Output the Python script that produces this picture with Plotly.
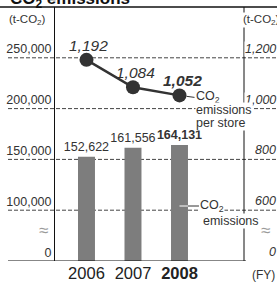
import plotly.graph_objects as go

# ---- data ----
years = ["2006", "2007", "2008"]
emissions = [152622, 161556, 164131]          # t-CO2 (bars, left axis)
per_store = [1192, 1084, 1052]                # t-CO2 per store (line, right axis)
year_labels = ["2006", "2007", "<b>2008</b>"]
left_tick_vals = [50000, 100000, 150000, 200000, 250000]   # 50,000 = broken-axis "0"
left_tick_text = ["0", "100,000", "150,000", "200,000", "250,000"]
right_tick_vals = [400, 600, 800, 1000, 1200]              # 400 = broken-axis "0"
right_tick_text = ["0", "600", "800", "1,000", "1,200"]

FONT = "Liberation Sans, Arial, Helvetica, sans-serif"
W, H = 277, 282
ML, MR, MT, MB = 55, 0, 7, 21
PW = W - ML - MR
PH = H - MT - MB
DOM = 189 / PW
BAR_W = 0.365
INK = "#333333"

def px_x(p):  # pixel -> paper x
    return (p - ML) / PW

def px_y(p):  # pixel -> paper y
    return 1 - (p - MT) / PH

bar_text = [f"{v:,}" for v in emissions]
bar_text[-1] = f"<b>{bar_text[-1]}</b>"

fig = go.Figure()
fig.add_trace(go.Bar(
    x=years, y=emissions, width=BAR_W, marker=dict(color="#7d7d7d", line=dict(width=0)),
    text=bar_text, textposition="outside", cliponaxis=False, constraintext="none",
    textfont=dict(size=12.5, color=INK, family=FONT), hoverinfo="skip",
))
fig.add_trace(go.Scatter(
    x=years, y=per_store, yaxis="y2", mode="lines+markers",
    line=dict(color=INK, width=2.5), marker=dict(size=14, color=INK),
    hoverinfo="skip",
))

shapes = []
for v in left_tick_vals[1:]:
    shapes.append(dict(type="line", xref="paper", yref="y", x0=px_x(8), x1=1.0,
                       y0=v, y1=v, line=dict(color="#444444", width=1, dash="4px,2px"),
                       layer="below"))
shapes.append(dict(type="line", xref="paper", yref="y", x0=px_x(8), x1=px_x(246),
                   y0=left_tick_vals[0], y1=left_tick_vals[0],
                   line=dict(color="#111111", width=1.2)))
shapes.append(dict(type="line", xref="paper", yref="paper", x0=px_x(0), x1=1.0,
                   y0=1, y1=1, line=dict(color="#111111", width=1.5)))
shapes.append(dict(type="line", xref="paper", yref="paper", x0=DOM, x1=DOM,
                   y0=0, y1=1, line=dict(color="#111111", width=1)))
shapes.append(dict(type="line", xref="x", yref="paper", x0=2.0, x1=2 + BAR_W / 2,
                   y0=px_y(206), y1=px_y(206), line=dict(color="white", width=1)))

ann = []
ann.append(dict(text="<b>CO<sub>2</sub> emissions</b>", xref="paper", yref="paper",
                x=px_x(8), y=1, xanchor="left", yanchor="bottom", yshift=-6,
                showarrow=False, font=dict(size=17, color="#111111", family=FONT)))
ann.append(dict(text="(t-CO<sub>2</sub>)", xref="paper", yref="paper", x=px_x(7),
                y=px_y(20), xanchor="left", yanchor="middle", showarrow=False,
                font=dict(size=11.5, color=INK, family=FONT)))
ann.append(dict(text="(t-CO<sub>2</sub>)", xref="paper", yref="paper", x=px_x(242),
                y=px_y(20), xanchor="left", yanchor="middle", showarrow=False,
                bgcolor="white", borderpad=0,
                font=dict(size=11.5, color=INK, family=FONT)))
for xp in (43, 265):
    ann.append(dict(text="≈", xref="paper", yref="paper", x=px_x(xp), y=px_y(230),
                    xanchor="center", yanchor="middle", showarrow=False, bgcolor="white",
                    borderpad=0, font=dict(size=17, color="#9a9a9a", family=FONT)))
ann.append(dict(text="(FY)", xref="paper", yref="paper", x=1.0, y=px_y(275),
                xanchor="right", yanchor="middle", showarrow=False,
                font=dict(size=12, color=INK, family=FONT)))
# right axis tick labels (right-aligned at the edge)
for v, t in zip(right_tick_vals, right_tick_text):
    ann.append(dict(text=f"<i>{t}</i>", xref="paper", yref="y2", x=1.0, y=v,
                    xanchor="right", yanchor="bottom", yshift=1, showarrow=False,
                    bgcolor="white", borderpad=0,
                    font=dict(size=12.5, color=INK, family=FONT)))
# line value labels
for i, v in enumerate(per_store):
    t = f"{v:,}"
    t = f"<b><i>{t}</i></b>" if i == len(per_store) - 1 else f"<i>{t}</i>"
    ann.append(dict(text=t, xref="x", yref="y2", x=i, y=v,
                    xanchor="center", yanchor="bottom", yshift=4, xshift=2.5,
                    showarrow=False, font=dict(size=15.5, color=INK, family=FONT)))
# legend for line
li = len(per_store) - 1
ann.append(dict(text="CO<sub>2</sub>", xref="x", yref="y2", x=li, y=per_store[li],
                ax=15, ay=2, xanchor="left", yanchor="middle", showarrow=True,
                arrowhead=0, arrowwidth=1, arrowcolor=INK, standoff=7, borderpad=0,
                bgcolor="white", font=dict(size=12.5, color=INK, family=FONT)))
ann.append(dict(text="emissions", xref="x", yref="y2", x=li, y=per_store[li],
                xshift=15, yshift=-15, xanchor="left", yanchor="middle",
                showarrow=False, bgcolor="white", borderpad=0,
                font=dict(size=12.5, color=INK, family=FONT)))
ann.append(dict(text="per store", xref="x", yref="y2", x=li, y=per_store[li],
                xshift=15, yshift=-27.5, xanchor="left", yanchor="middle",
                showarrow=False, bgcolor="white", borderpad=0,
                font=dict(size=12.5, color=INK, family=FONT)))
# legend for bars
ann.append(dict(text="CO<sub>2</sub>", xref="x", yref="paper", x=2 + BAR_W / 2, y=px_y(206),
                ax=11, ay=0, xanchor="left", yanchor="middle", showarrow=True,
                arrowhead=0, arrowwidth=1, arrowcolor=INK, standoff=0, borderpad=0,
                bgcolor="white", font=dict(size=12.5, color=INK, family=FONT)))
ann.append(dict(text="emissions", xref="x", yref="paper", x=2 + BAR_W / 2, y=px_y(221),
                xshift=14, xanchor="left", yanchor="middle", showarrow=False,
                bgcolor="white", borderpad=0,
                font=dict(size=12.5, color=INK, family=FONT)))

fig.update_layout(
    width=W, height=H, margin=dict(l=ML, r=MR, t=MT, b=MB, pad=0),
    paper_bgcolor="white", plot_bgcolor="white", showlegend=False,
    font=dict(family=FONT, color=INK),
    xaxis=dict(type="category", domain=[0, DOM], range=[-0.677, 3.387],
               tickvals=years, ticktext=year_labels, showgrid=False, showline=False,
               zeroline=False, ticks="", automargin=False,
               tickfont=dict(size=16.5, color="#222222", family=FONT)),
    yaxis=dict(range=[50000, 300000], tickvals=left_tick_vals, ticktext=left_tick_text,
               showgrid=False, zeroline=False, showline=True, linecolor="#111111",
               linewidth=1, ticks="", ticklabelposition="outside top", automargin=False,
               tickfont=dict(size=12.5, color=INK, family=FONT)),
    yaxis2=dict(overlaying="y", anchor="x", side="right",
                range=[400, 1400], showticklabels=False,
                showgrid=False, zeroline=False, showline=False, ticks="",
                automargin=False),
    shapes=shapes, annotations=ann,
)

fig.write_html("out.html", config={"displayModeBar": False},
               post_script="document.body.style.margin='0';document.body.style.padding='0';")
